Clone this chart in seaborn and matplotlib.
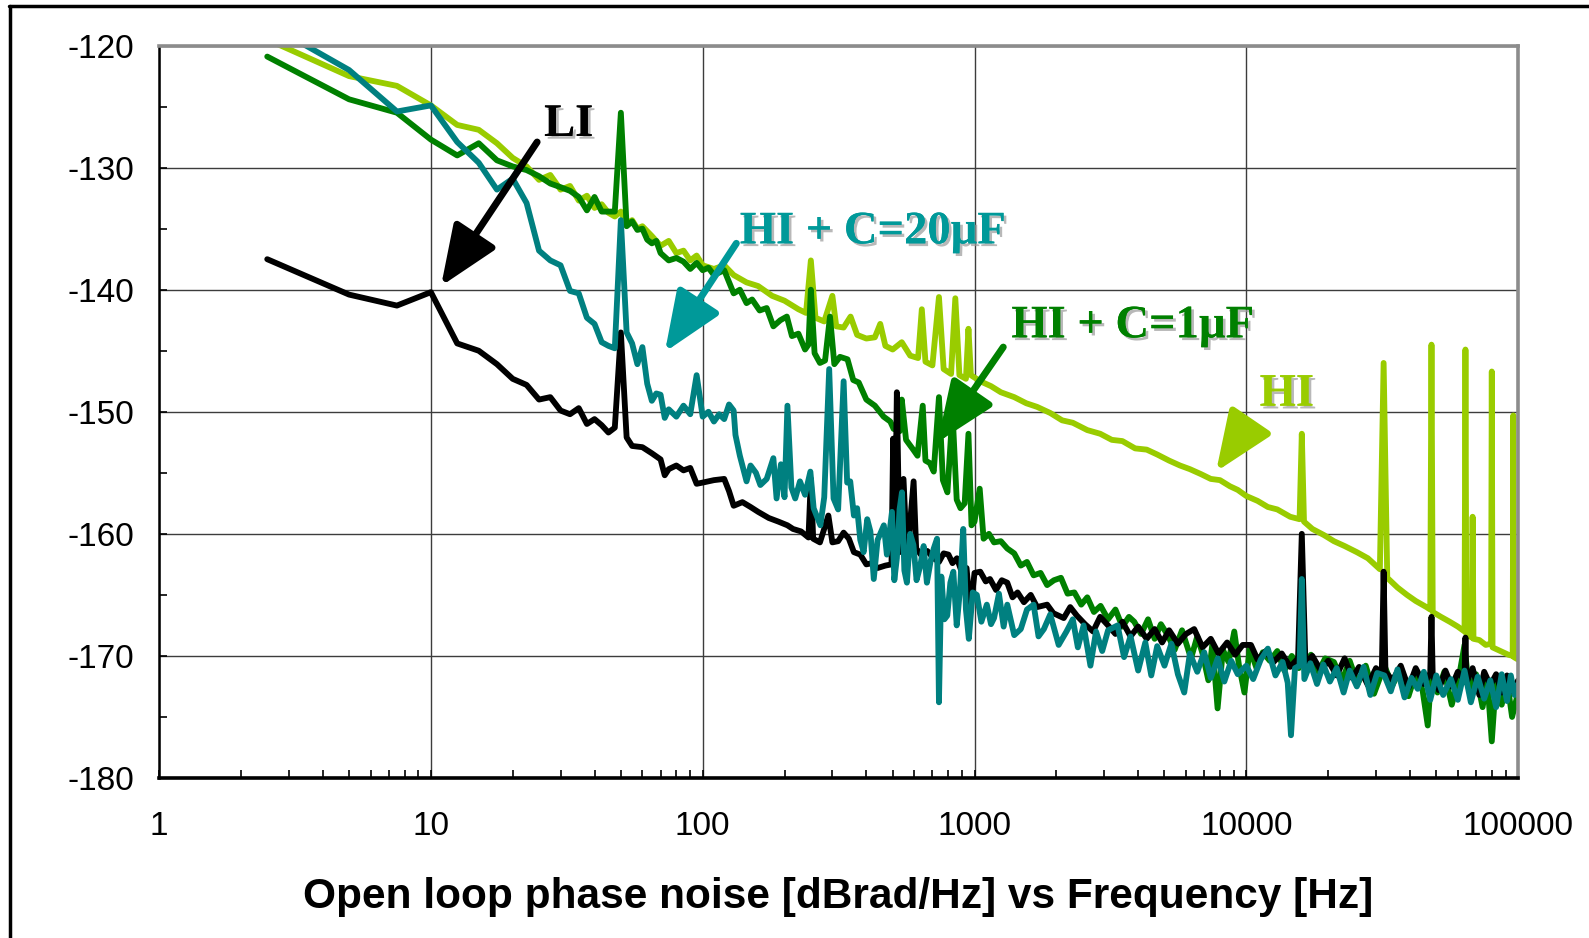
"""
Open loop phase noise vs frequency, LI / HI variants
"""
import numpy as np
import seaborn as sns
import matplotlib
matplotlib.use("Agg")
import matplotlib.pyplot as plt
import matplotlib.patheffects as pe
from matplotlib.lines import Line2D
from matplotlib.ticker import LogLocator, MultipleLocator, NullFormatter

# ---- data (Hz, dBrad/Hz) ----
hi_freq = [2.5, 5, 7.5, 10, 12.5, 15, 17.5, 20, 22.5, 25,
           27.5, 30, 32.5, 35, 37.5, 40, 42.5, 45, 47.5, 50,
           52.5, 55, 57.5, 60, 65, 70, 75, 80, 85, 90,
           95, 100, 110, 120, 130, 145, 160, 180, 200, 225,
           240, 250, 260, 280, 300, 310, 330, 350, 370, 400,
           430, 450, 470, 500, 540, 580, 620, 640, 660, 700,
           740, 770, 820, 850, 880, 930, 950, 970, 1050, 1150,
           1250, 1400, 1550, 1700, 1900, 2100, 2300, 2600, 2900, 3200,
           3500, 3900, 4300, 4700, 5200, 5700, 6200, 6800, 7400, 8000,
           8700, 9300, 10000, 11000, 12000, 13000, 14500, 15700, 16000, 16300,
           17500, 19300, 21000, 23000, 25500, 28000, 31000, 32000, 33000, 36000,
           39000, 42000, 46000, 47500, 48000, 48500, 52000, 56000, 60000, 63500,
           64000, 64500, 67500, 68000, 68500, 72000, 76000, 79500, 80000, 80500,
           86000, 92000, 95500, 96000, 96500, 100000]
hi_db = [-119.5, -122.5, -123.3, -124.9, -126.5, -126.9, -128.0, -129.2, -129.9, -131.0,
         -130.6, -131.8, -131.5, -132.7, -132.3, -133.3, -133.0, -133.7, -134.0, -133.6,
         -134.6, -134.3, -135.0, -134.8, -135.6, -136.4, -136.0, -137.0, -136.8, -137.6,
         -137.2, -138.0, -138.3, -138.0, -138.8, -139.4, -139.7, -140.5, -140.9, -141.6,
         -141.9, -137.6, -142.3, -142.6, -140.5, -143.0, -143.1, -142.2, -143.7, -144.0,
         -143.9, -142.8, -144.6, -144.9, -144.3, -145.4, -145.6, -141.6, -145.9, -146.2,
         -140.6, -146.5, -146.9, -140.7, -147.0, -147.3, -143.2, -147.0, -147.5, -147.9,
         -148.4, -148.8, -149.3, -149.6, -150.1, -150.7, -150.9, -151.5, -151.8, -152.3,
         -152.4, -153.0, -153.1, -153.5, -154.0, -154.4, -154.7, -155.1, -155.5, -155.6,
         -156.1, -156.4, -156.9, -157.3, -157.8, -158.0, -158.6, -158.8, -151.8, -159.0,
         -159.6, -160.1, -160.6, -161.0, -161.5, -162.0, -162.9, -146.0, -163.6, -164.4,
         -165.0, -165.5, -166.0, -166.2, -144.5, -166.4, -166.8, -167.2, -167.6, -168.0,
         -144.9, -168.2, -168.5, -158.6, -168.6, -168.7, -169.1, -169.0, -146.7, -169.3,
         -169.6, -169.9, -170.0, -150.3, -170.1, -170.3]

c1_freq = [2.5, 5, 7.5, 10, 12.5, 15, 17.5, 20, 22.5, 25,
           27.5, 30, 32.5, 35, 37.5, 40, 42.5, 45, 47.5, 50,
           52.5, 55, 57.5, 60, 62.5, 65, 67.5, 70, 75, 80,
           85, 90, 95, 100, 105, 110, 120, 130, 137, 145,
           152, 162, 172, 182, 193, 204, 213, 225, 238, 245,
           250, 258, 270, 282, 294, 305, 320, 341, 358, 375,
           400, 430, 463, 490, 504, 530, 540, 560, 595, 617,
           645, 660, 685, 708, 740, 765, 795, 830, 860, 888,
           920, 950, 975, 1000, 1045, 1080, 1130, 1180, 1250, 1320,
           1400, 1480, 1560, 1650, 1750, 1850, 1960, 2080, 2200, 2330,
           2470, 2600, 2750, 2910, 3100, 3300, 3500, 3700, 3870, 4100,
           4350, 4600, 4850, 5140, 5450, 5800, 6260, 6600, 6900, 7250,
           7500, 7840, 8200, 8600, 9030, 9400, 9840, 10300, 10900, 11500,
           12200, 13000, 13800, 14700, 15600, 16000, 16400, 17300, 18400, 19500,
           21000, 22500, 24000, 25700, 27500, 29500, 32200, 34500, 37000, 39500,
           42000, 44500, 46500, 48000, 50500, 53500, 57000, 60500, 63500, 66000,
           70000, 74000, 77000, 80000, 83000, 87000, 91000, 95000, 100000]
c1_db = [-120.9, -124.4, -125.5, -127.7, -129.0, -128.0, -129.4, -129.9, -130.2, -130.7,
         -131.3, -131.6, -131.9, -132.4, -133.5, -132.4, -133.6, -133.6, -133.6, -125.5,
         -134.8, -134.4, -135.1, -135.0, -135.9, -136.2, -136.0, -137.0, -137.6, -137.4,
         -137.7, -138.3, -137.8, -138.4, -138.2, -138.8, -138.4, -140.3, -140.0, -141.1,
         -140.8, -141.7, -141.5, -143.0, -142.5, -142.2, -143.8, -143.6, -144.9, -144.5,
         -140.0, -145.2, -146.0, -145.8, -142.2, -146.1, -145.5, -145.7, -147.4, -147.6,
         -149.0, -149.5, -150.4, -150.8, -151.4, -151.6, -149.0, -152.3, -153.1, -153.6,
         -149.5, -154.0, -154.2, -154.9, -148.8, -155.6, -156.6, -150.0, -157.2, -157.9,
         -157.5, -151.8, -159.3, -159.0, -156.3, -160.4, -160.0, -160.7, -160.6, -161.2,
         -161.6, -162.6, -162.3, -163.4, -163.2, -164.2, -163.8, -163.6, -164.9, -164.8,
         -165.8, -165.2, -166.4, -165.9, -167.0, -166.2, -167.6, -166.8, -167.2, -168.2,
         -167.0, -168.6, -167.4, -168.3, -169.5, -167.9, -170.2, -168.4, -169.8, -172.0,
         -169.0, -174.3, -169.5, -170.5, -168.0, -170.8, -173.0, -169.4, -171.0, -169.7,
         -170.4, -169.6, -171.2, -170.0, -171.0, -163.6, -170.8, -169.9, -171.3, -170.2,
         -170.5, -172.0, -170.4, -172.3, -170.8, -173.1, -170.8, -172.4, -171.0, -173.3,
         -171.4, -172.8, -175.7, -171.2, -173.0, -171.3, -174.0, -171.8, -169.1, -172.9,
         -171.5, -174.2, -172.0, -177.0, -171.8, -174.0, -172.0, -175.0, -173.0]

li_freq = [2.5, 5, 7.5, 10, 12.5, 15, 17.5, 20, 22.5, 25,
           27.5, 30, 32.5, 35, 37.5, 40, 42.5, 45, 47.5, 50,
           52.5, 55, 60, 65, 70, 72.5, 75, 80, 85, 90,
           95, 100, 110, 120, 125, 130, 140, 150, 160, 175,
           190, 205, 215, 230, 245, 250, 255, 270, 290, 300,
           315, 330, 345, 360, 380, 400, 420, 440, 470, 495,
           502, 510, 518, 530, 548, 565, 597, 610, 640, 670,
           708, 740, 770, 802, 830, 862, 900, 935, 965, 1000,
           1050, 1100, 1140, 1200, 1260, 1320, 1380, 1440, 1520, 1610,
           1700, 1850, 1950, 2130, 2250, 2380, 2550, 2730, 2900, 3100,
           3300, 3500, 3750, 4000, 4300, 4600, 4900, 5200, 5600, 6000,
           6430, 6900, 7400, 7900, 8500, 9100, 9700, 10400, 11000, 11800,
           12600, 13500, 14500, 15500, 16000, 16500, 17500, 18800, 20000, 21500,
           23000, 24500, 26000, 28000, 30000, 31500, 32000, 32500, 34500, 37000,
           39500, 42000, 45000, 47500, 48000, 48500, 51000, 54000, 57000, 60000,
           63500, 64000, 64500, 68000, 72000, 75000, 79000, 83000, 87000, 91000,
           95000, 100000]
li_db = [-137.5, -140.4, -141.3, -140.2, -144.4, -145.0, -146.1, -147.3, -147.8, -149.0,
         -148.8, -149.9, -150.2, -149.7, -151.0, -150.6, -151.1, -151.7, -151.3, -143.5,
         -152.1, -152.8, -152.9, -153.4, -153.9, -155.2, -154.7, -154.4, -154.8, -154.6,
         -155.9, -155.8, -155.6, -155.5, -156.5, -157.7, -157.4, -157.8, -158.2, -158.7,
         -159.0, -159.3, -159.6, -159.8, -160.3, -155.5, -160.4, -160.7, -158.5, -160.7,
         -160.6, -159.9, -160.4, -161.5, -161.7, -162.5, -162.4, -162.8, -162.6, -162.5,
         -152.2, -160.0, -148.4, -161.5, -155.5, -162.0, -155.7, -161.2, -161.8, -161.4,
         -162.0, -162.3, -161.6, -161.7, -162.4, -162.0, -163.2, -162.8, -166.4, -163.2,
         -163.1, -163.9, -163.7, -164.6, -163.8, -164.0, -165.2, -164.8, -165.6, -165.0,
         -166.0, -165.8, -166.5, -166.9, -166.0, -166.7, -167.4, -168.0, -166.8, -167.5,
         -168.2, -167.2, -168.4, -167.6, -168.6, -167.8, -168.9, -167.9, -169.0, -168.2,
         -167.8, -169.3, -168.6, -169.8, -168.9, -169.9, -169.1, -169.1, -170.3, -169.6,
         -170.5, -169.8, -170.9, -170.2, -160.0, -170.6, -170.0, -171.2, -170.4, -171.6,
         -170.2, -171.8, -170.9, -172.4, -171.0, -171.5, -163.1, -171.3, -172.0, -170.8,
         -172.6, -171.0, -172.3, -171.4, -166.8, -171.6, -172.8, -171.2, -172.5, -171.3,
         -172.0, -168.5, -172.2, -171.0, -173.2, -171.3, -172.4, -171.5, -173.0, -171.6,
         -172.9, -172.0]

c20_freq = [2.5, 5, 7.5, 10, 12.5, 15, 17.5, 20, 22.5, 25,
            27.5, 30, 32.5, 35, 37.5, 40, 42.5, 45, 47.5, 50,
            52.5, 55, 57.5, 60, 62.5, 65, 67.5, 70, 72.5, 75,
            80, 85, 90, 95, 100, 105, 110, 115, 120, 125,
            130, 132, 137, 145, 150, 157, 163, 172, 182, 187,
            194, 200, 205, 212, 219, 228, 238, 249, 256, 271,
            280, 292, 303, 315, 330, 340, 349, 360, 370, 380,
            391, 403, 414, 426, 440, 464, 476, 497, 507, 518,
            530, 541, 552, 564, 580, 596, 612, 632, 650, 668,
            690, 708, 728, 740, 755, 775, 794, 815, 836, 860,
            885, 909, 930, 953, 985, 1020, 1060, 1110, 1150, 1180,
            1230, 1280, 1320, 1400, 1480, 1560, 1650, 1720, 1800, 1900,
            2040, 2180, 2300, 2400, 2520, 2670, 2800, 2950, 3100, 3360,
            3550, 3750, 4000, 4250, 4470, 4700, 5000, 5300, 5600, 5910,
            6200, 6600, 7000, 7400, 7850, 8300, 8800, 9300, 10000, 10600,
            11300, 12000, 12800, 13600, 14200, 14600, 15100, 15700, 16000, 16350,
            17200, 18200, 19200, 20300, 21500, 22800, 24000, 25500, 27000, 28600,
            30300, 32200, 34000, 36000, 38200, 40500, 42700, 45000, 47500, 50000,
            53000, 56600, 60000, 63500, 67000, 71000, 75000, 79000, 83000, 87000,
            91000, 94000, 97000, 100000]
c20_db = [-118.2, -122.0, -125.4, -124.9, -127.9, -129.6, -131.8, -130.9, -132.9, -136.8,
          -137.6, -138.0, -140.1, -140.3, -142.3, -142.8, -144.3, -144.6, -144.8, -134.3,
          -143.5, -144.4, -146.1, -144.7, -147.7, -149.1, -148.5, -148.6, -150.5, -149.8,
          -150.4, -149.5, -150.2, -147.0, -150.4, -150.0, -150.8, -150.2, -150.6, -149.4,
          -149.9, -151.9, -153.6, -155.7, -154.4, -155.0, -156.0, -155.5, -153.8, -157.1,
          -154.3, -157.0, -149.5, -156.2, -157.1, -155.7, -156.8, -154.9, -157.9, -159.3,
          -157.0, -146.5, -157.1, -158.0, -147.5, -155.8, -155.7, -158.5, -157.9, -160.5,
          -161.5, -158.8, -159.8, -163.7, -160.5, -159.3, -161.7, -158.2, -163.8, -162.0,
          -158.0, -156.6, -163.0, -164.0, -160.0, -160.9, -163.8, -162.6, -161.0, -164.0,
          -162.2, -161.2, -160.4, -173.8, -163.5, -167.0, -166.7, -164.0, -163.1, -167.5,
          -164.5, -159.6, -166.2, -168.6, -164.8, -165.0, -167.2, -165.8, -167.4, -166.9,
          -164.9, -167.6, -165.8, -168.3, -167.8, -166.2, -165.8, -168.4, -167.8, -166.6,
          -169.1, -168.0, -167.0, -169.3, -167.5, -170.8, -168.0, -169.6, -167.9, -167.5,
          -170.1, -168.4, -171.2, -168.9, -171.6, -169.2, -170.8, -169.0, -171.5, -173.0,
          -169.8, -171.3, -169.7, -171.8, -170.2, -172.1, -170.4, -171.5, -170.8, -171.9,
          -170.3, -169.4, -171.6, -170.5, -172.2, -176.5, -171.0, -170.8, -163.7, -171.9,
          -170.6, -172.3, -170.7, -172.1, -171.0, -173.0, -171.2, -172.5, -170.9, -173.2,
          -171.4, -171.6, -172.9, -171.1, -173.4, -171.8, -172.7, -171.3, -173.6, -171.6,
          -173.2, -171.9, -173.6, -171.2, -173.8, -171.7, -173.5, -172.0, -174.2, -171.5,
          -173.7, -171.6, -173.2, -172.3]

x_ticks = [1, 10, 100, 1000, 10000, 100000]
y_ticks = [-180, -170, -160, -150, -140, -130, -120]
x_title = "Open loop phase noise [dBrad/Hz] vs Frequency [Hz]"

# label text, text position (left, baseline), arrow tail, arrow tip, colour
notes = [
    ("LI", (26.1, -127.4), (24.6, -127.9), (10.9, -139.7), "black"),
    ("HI + C=20\u00b5F", (137, -136.2), (133, -136.2), (72.6, -145.1), "#009999"),
    ("HI + C=1\u00b5F", (1367, -143.9), (1276, -144.7), (731, -152.5), "#008000"),
    ("HI", (11200, -149.5), (10190, -151.0), (7740, -154.9), "#99CC00"),
]

LINE_W = 4.2


def main():
    sns.set_style("white")
    plt.rcParams['font.family'] = ['Liberation Sans', 'DejaVu Sans']
    plt.rcParams['text.color'] = 'black'
    plt.rcParams['axes.labelcolor'] = 'black'
    plt.rcParams['lines.linewidth'] = LINE_W

    fig = plt.figure(figsize=(15.89, 9.38), dpi=100)
    ax = fig.add_axes([0.1001, 0.1706, 0.8553, 0.7808])

    # drawing order: HI first, C=20uF on top
    series = [(hi_freq, hi_db, "#99CC00"),
              (c1_freq, c1_db, "#008000"),
              (li_freq, li_db, "black"),
              (c20_freq, c20_db, "#008080")]
    for f, db, col in series:
        sns.lineplot(x=f, y=db, ax=ax, color=col, linewidth=LINE_W,
                     estimator=None, sort=False, legend=False)
    for line in ax.get_lines():
        line.set_linewidth(LINE_W)
        line.set_solid_joinstyle('round')

    ax.set_xscale('log')
    ax.set_xlim(1, 100000)
    ax.set_ylim(-180, -120)
    ax.set_xticks(x_ticks)
    ax.set_xticklabels([str(t) for t in x_ticks])
    ax.xaxis.set_minor_locator(LogLocator(base=10, subs=np.arange(2, 10)))
    ax.xaxis.set_minor_formatter(NullFormatter())
    ax.set_yticks(y_ticks)
    ax.set_yticklabels([str(t) for t in y_ticks])
    ax.yaxis.set_minor_locator(MultipleLocator(5))

    ax.tick_params(which='both', direction='in', bottom=True, left=True,
                   top=False, right=False, length=6, width=1.2,
                   colors='black', labelcolor='black')
    ax.tick_params(axis='y', which='major', labelsize=24, pad=18)
    ax.tick_params(axis='x', which='major', labelsize=24, pad=24)
    ax.grid(which='major', color='#3c3c3c', lw=1.0)
    ax.grid(which='minor', visible=False)
    ax.set_axisbelow(True)

    ax.spines['left'].set_color('black')
    ax.spines['left'].set_linewidth(1.8)
    ax.spines['bottom'].set_color('black')
    ax.spines['bottom'].set_linewidth(2.6)
    for s in ['top', 'right']:
        ax.spines[s].set_color('#8c8c8c')
        ax.spines[s].set_linewidth(2.6)

    ax.set_xlabel(x_title, fontsize=30.5, fontweight='bold', labelpad=25, color='black')
    ax.set_ylabel('')

    shadow = [pe.withSimplePatchShadow(offset=(2, -2), shadow_rgbFace='#9a9a9a', alpha=0.7),
              pe.Normal()]
    serif = ['Liberation Serif', 'DejaVu Serif']
    for label, pos, tail, tip, col in notes:
        ax.text(pos[0], pos[1], label, ha='left', va='baseline', fontsize=33.5,
                fontweight='bold', family=serif, color=col, path_effects=shadow)
        ax.annotate('', xy=tip, xytext=tail,
                    arrowprops=dict(arrowstyle='-|>,head_length=0.8,head_width=0.33',
                                    color=col, lw=5, mutation_scale=46,
                                    shrinkA=0, shrinkB=0))

    # outer frame (only top and left edges show)
    fig.add_artist(Line2D([9 / 1589, 1], [1 - 6 / 938, 1 - 6 / 938],
                          transform=fig.transFigure, color='black', lw=2.5))
    fig.add_artist(Line2D([9.5 / 1589, 9.5 / 1589], [0, 1 - 6 / 938],
                          transform=fig.transFigure, color='black', lw=2.5))

    fig.savefig('out.png', dpi=100)


if __name__ == "__main__":
    main()
